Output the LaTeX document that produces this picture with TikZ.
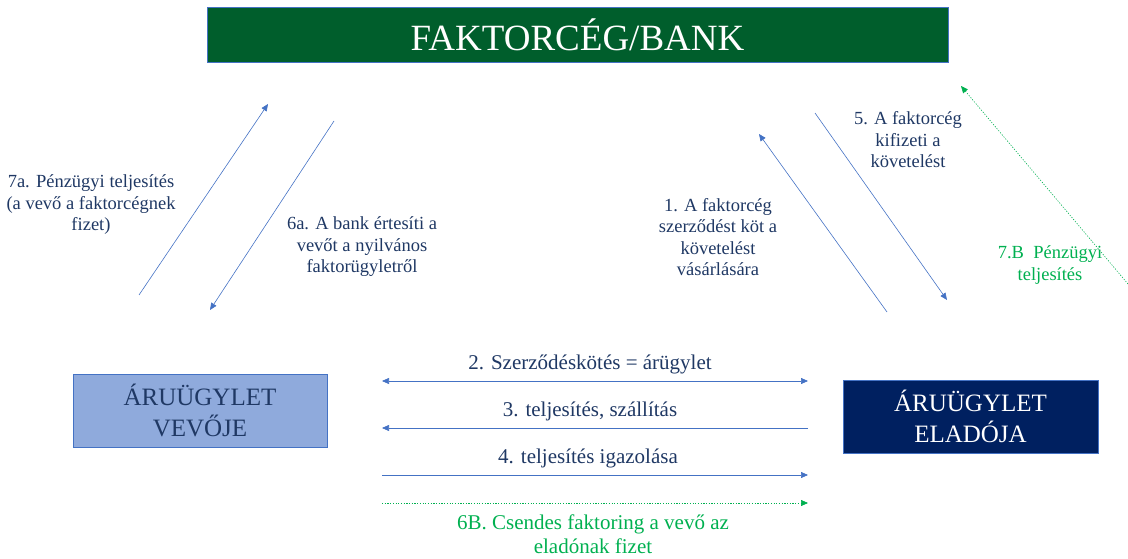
\documentclass[tikz,border=0pt]{standalone}
\usepackage{fontspec}
\setmainfont{Liberation Serif}
\usetikzlibrary{arrows.meta}
\definecolor{bankgreen}{RGB}{0,94,44}
\definecolor{buyerfill}{RGB}{143,170,220}
\definecolor{sellerfill}{RGB}{0,32,96}
\definecolor{boxline}{RGB}{68,114,196}
\definecolor{flowblue}{RGB}{68,114,196}
\definecolor{labelnavy}{RGB}{31,56,100}
\definecolor{silentgreen}{RGB}{0,176,80}
\tikzset{
  party/.style={draw=boxline, line width=0.6pt, inner sep=0pt, align=center},
  flow/.style={draw=flowblue, line width=0.6pt, -{Triangle[length=7pt,width=6pt]}},
  biflow/.style={draw=flowblue, line width=0.6pt, {Triangle[length=7pt,width=6pt]}-{Triangle[length=7pt,width=6pt]}},
  silent/.style={draw=silentgreen, line width=0.6pt, dash pattern=on 1.2pt off 1.5pt, -{Triangle[length=7pt,width=6pt]}},
  note/.style={text=labelnavy, font=\fontsize{18.5}{21.5}\selectfont, align=center, inner sep=0pt},
  hnote/.style={text=labelnavy, font=\fontsize{21}{24}\selectfont, align=center, inner sep=0pt},
  gnote/.style={text=silentgreen, font=\fontsize{18.5}{21.5}\selectfont, align=center, inner sep=0pt},
}
\begin{document}
\begin{tikzpicture}[x=1pt,y=-1pt]
\useasboundingbox (0,0) rectangle (1128,559);

% parties
\node[party, fill=bankgreen, minimum width=741pt, minimum height=55pt,
      text=white, font=\fontsize{37}{42}\selectfont] (bank) at (577.5,34.5) {FAKTORCÉG/BANK};
\node[party, fill=buyerfill, minimum width=254pt, minimum height=73pt,
      text=labelnavy, font=\fontsize{25}{31}\selectfont] (buyer) at (200,410.5) {ÁRUÜGYLET\\VEVŐJE};
\node[party, fill=sellerfill, minimum width=255pt, minimum height=73pt,
      text=white, font=\fontsize{25}{31}\selectfont] (seller) at (970.5,416.5) {ÁRUÜGYLET\\ELADÓJA};

% end points of the diagonal flows
\coordinate (a7s) at (139,295);  \coordinate (a7e) at (268,104);
\coordinate (a6s) at (334,121);  \coordinate (a6e) at (210,310);
\coordinate (a1s) at (887,312);  \coordinate (a1e) at (759,134);
\coordinate (a5s) at (815,113);  \coordinate (a5e) at (947,300);
\coordinate (b7s) at (1128,284); \coordinate (b7e) at (961,86);

% end points of the horizontal flows
\coordinate (h2l) at (382,381); \coordinate (h2r) at (808,381);
\coordinate (h3l) at (382,428); \coordinate (h3r) at (808,428);
\coordinate (h4l) at (382,475); \coordinate (h4r) at (808,475);
\coordinate (h6l) at (382,503); \coordinate (h6r) at (808,503);

\draw[flow] (a7s) -- (a7e);
\draw[flow] (a6s) -- (a6e);
\draw[flow] (a1s) -- (a1e);
\draw[flow] (a5s) -- (a5e);
\draw[silent] (b7s) -- (b7e);

\draw[biflow] (h2l) -- (h2r);
\draw[flow] (h3r) -- (h3l);
\draw[flow] (h4l) -- (h4r);
\draw[silent] (h6l) -- (h6r);

% labels
\node[note] (l7a) at (91,205) {7a. Pénzügyi teljesítés\\(a vevő a faktorcégnek\\fizet)};
\node[note] (l6a) at (362,247) {6a. A bank értesíti a\\vevőt a nyilvános\\faktorügyletről};
\node[note] (l1) at (718,237) {1. A faktorcég\\szerződést köt a\\követelést\\vásárlására};
\node[note] (l5) at (908,140) {5. A faktorcég\\kifizeti a\\követelést};
\node[gnote] (l7b) at (1050,265) {7.B\ \ Pénzügyi\\teljesítés};

\node[hnote] (l2) at (590,364) {2. Szerződéskötés = árügylet};
\node[hnote] (l3) at (590,411) {3. teljesítés, szállítás};
\node[hnote] (l4) at (588,458) {4. teljesítés igazolása};
\node[hnote, text=silentgreen] (l6b) at (593,534) {6B. Csendes faktoring a vevő az\\eladónak fizet};
\end{tikzpicture}
\end{document}
